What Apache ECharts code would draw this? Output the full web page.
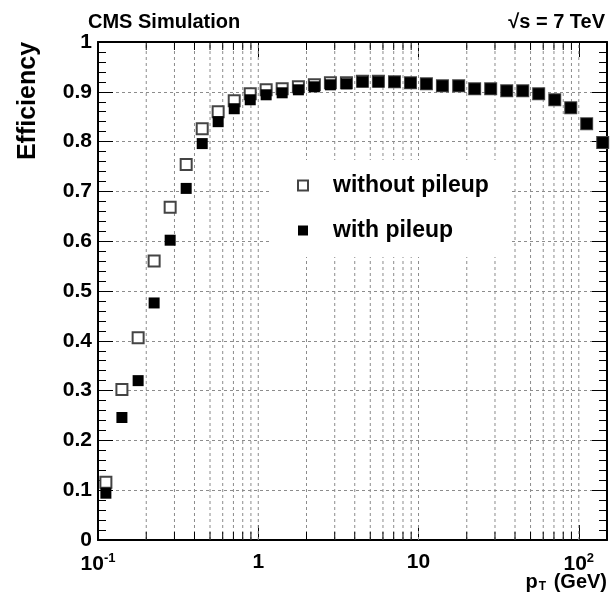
<!DOCTYPE html>
<html>
<head>
<meta charset="utf-8">
<script src="https://cdn.jsdelivr.net/npm/echarts@6/dist/echarts.min.js"></script>
<style>html,body{margin:0;padding:0;background:#fff;}#c{width:611px;height:603px;}</style>
</head>
<body>
<div id="c"></div>
<script>
// ---- data ----
const ptValues = [0.112, 0.141, 0.178, 0.224, 0.282, 0.355, 0.447, 0.562, 0.708, 0.891,
  1.12, 1.41, 1.78, 2.24, 2.82, 3.55, 4.47, 5.62, 7.08, 8.91,
  11.2, 14.1, 17.8, 22.4, 28.2, 35.5, 44.7, 56.2, 70.8, 89.1, 112, 141];
const effWithoutPileup = [0.116, 0.302, 0.406, 0.560, 0.668, 0.754, 0.826, 0.860, 0.882, 0.896,
  0.904, 0.906, 0.910, 0.914, 0.918, 0.918, 0.921, 0.921, 0.920, 0.918,
  0.916, 0.912, 0.912, 0.906, 0.906, 0.902, 0.902, 0.896, 0.884, 0.868, 0.836, 0.798];
const effWithPileup = [0.094, 0.246, 0.320, 0.476, 0.602, 0.706, 0.796, 0.840, 0.866, 0.884,
  0.894, 0.898, 0.904, 0.910, 0.914, 0.916, 0.920, 0.920, 0.920, 0.918,
  0.916, 0.912, 0.912, 0.906, 0.906, 0.902, 0.902, 0.896, 0.884, 0.868, 0.836, 0.798];
const seriesNames = ['without pileup', 'with pileup'];
const xMinorGrid = [0.2, 0.3, 0.4, 0.5, 0.6, 0.7, 0.8, 0.9, 2, 3, 4, 5, 6, 7, 8, 9, 20, 30, 40, 50, 60, 70, 80, 90];
const xMajorGrid = [1, 10, 100];
const xRange = [0.1, 150];
const yRange = [0, 1];
const yStep = 0.1;

// ---- chart ----
const FONT = '"Liberation Sans", Arial, Helvetica, sans-serif';
const chart = echarts.init(document.getElementById('c'), null, {renderer: 'canvas'});

function zip(xs, ys) { return xs.map((x, i) => [x, ys[i]]); }

const gridData = xMinorGrid.map(v => [v, 0, 1]).concat(xMajorGrid.map(v => [v, 0, 0]));

function xLabel(v) {
  const l = Math.log10(v);
  const e = Math.round(l);
  if (Math.abs(l - e) > 1e-6) return '';
  if (e === 0) return '1';
  if (e === 1) return '10';
  return '10{sup|' + (e < 0 ? '-' + (-e) : e) + '}';
}

const gridStroke = {stroke: '#8c8c8c', lineWidth: 1, lineDash: [3, 3]};

const option = {
  animation: false,
  backgroundColor: '#fff',
  grid: {left: 98, right: 4, top: 42, bottom: 63, containLabel: false, outerBoundsMode: 'none'},
  xAxis: [
    {
      type: 'log', logBase: 10, min: xRange[0], max: xRange[1], position: 'bottom',
      axisLine: {show: true, onZero: false, lineStyle: {color: '#000', width: 2}},
      axisTick: {show: true, inside: true, length: 15, lineStyle: {color: '#000', width: 1}},
      minorTick: {show: false},
      splitLine: {show: false},
      axisLabel: {
        show: true, margin: 12, formatter: xLabel,
        color: '#000', fontFamily: FONT, fontWeight: 'bold', fontSize: 21,
        rich: {sup: {fontSize: 13, fontWeight: 'bold', fontFamily: FONT, color: '#000', padding: [0, 0, 11, 0]}}
      }
    },
    {
      type: 'log', logBase: 10, min: xRange[0], max: xRange[1], position: 'top',
      axisLine: {show: true, onZero: false, lineStyle: {color: '#000', width: 2}},
      axisTick: {show: true, inside: true, length: 15, lineStyle: {color: '#000', width: 1}},
      axisLabel: {show: false}, splitLine: {show: false}
    }
  ],
  yAxis: [
    {
      type: 'value', min: yRange[0], max: yRange[1], interval: yStep, position: 'left',
      axisLine: {show: true, onZero: false, lineStyle: {color: '#000', width: 2}},
      axisTick: {show: true, inside: true, length: 15, lineStyle: {color: '#000', width: 1}},
      minorTick: {show: true, splitNumber: 5, length: 8, lineStyle: {color: '#000', width: 1}},
      splitLine: {show: true, lineStyle: {color: '#8c8c8c', width: 1, type: [3, 3]}},
      axisLabel: {margin: 6, color: '#000', fontFamily: FONT, fontWeight: 'bold', fontSize: 21}
    },
    {
      type: 'value', min: yRange[0], max: yRange[1], interval: yStep, position: 'right',
      axisLine: {show: true, onZero: false, lineStyle: {color: '#000', width: 2}},
      axisTick: {show: true, inside: true, length: 15, lineStyle: {color: '#000', width: 1}},
      minorTick: {show: true, splitNumber: 5, length: 8, lineStyle: {color: '#000', width: 1}},
      splitLine: {show: false}, axisLabel: {show: false}
    }
  ],
  legend: {
    orient: 'vertical', left: 272, top: 160,
    backgroundColor: '#fff', padding: [14, 22, 15, 25], itemGap: 22,
    itemWidth: 10, itemHeight: 10, z: 10,
    textStyle: {fontSize: 23, fontWeight: 'bold', fontFamily: FONT, color: '#000', padding: [0, 0, 0, 20]},
    data: [{name: seriesNames[0], icon: 'rect'}, {name: seriesNames[1], icon: 'rect'}]
  },
  graphic: [
    {type: 'text', left: 88, top: 12, style: {text: 'CMS Simulation', fontSize: 20, fontWeight: 'bold', fontFamily: FONT, fill: '#000'}},
    {type: 'text', right: 6, top: 12, style: {text: '√s = 7 TeV', fontSize: 20, fontWeight: 'bold', fontFamily: FONT, fill: '#000'}},
    {type: 'text', x: 28, y: 101, rotation: Math.PI / 2,
      style: {text: 'Efficiency', fontSize: 25, fontWeight: 'bold', fontFamily: FONT, fill: '#000', align: 'center', verticalAlign: 'middle'}},
    {type: 'text', right: 4, top: 572,
      style: {text: 'p{sub|T} (GeV)', fontSize: 20, fontWeight: 'bold', fontFamily: FONT, fill: '#000',
        rich: {sub: {fontSize: 12, fontWeight: 'bold', fontFamily: FONT, fill: '#000', padding: [10, 2, 0, 1]}}}}
  ],
  series: [
    {
      type: 'custom', name: 'grid', silent: true, z: 1,
      xAxisIndex: 0, yAxisIndex: 0,
      encode: {x: 0, y: 1},
      data: gridData,
      renderItem: function (params, api) {
        const v = api.value(0);
        const minor = api.value(2) === 1;
        const b = api.coord([v, yRange[0]]);
        const t = api.coord([v, yRange[1]]);
        const children = [{type: 'line', shape: {x1: b[0], y1: b[1], x2: t[0], y2: t[1]}, style: gridStroke}];
        if (minor) {
          children.push({type: 'line', shape: {x1: b[0], y1: b[1], x2: b[0], y2: b[1] - 8}, style: {stroke: '#000', lineWidth: 1}});
          children.push({type: 'line', shape: {x1: t[0], y1: t[1], x2: t[0], y2: t[1] + 8}, style: {stroke: '#000', lineWidth: 1}});
        }
        return {type: 'group', children: children};
      }
    },
    {
      type: 'scatter', name: seriesNames[0], z: 3,
      symbol: 'rect', symbolSize: 11,
      itemStyle: {color: '#fff', borderColor: '#444', borderWidth: 2, opacity: 1},
      data: zip(ptValues, effWithoutPileup)
    },
    {
      type: 'scatter', name: seriesNames[1], z: 4,
      symbol: 'rect', symbolSize: 11,
      itemStyle: {color: '#000', opacity: 1},
      data: zip(ptValues, effWithPileup)
    }
  ]
};
chart.setOption(option);
</script>
</body>
</html>
